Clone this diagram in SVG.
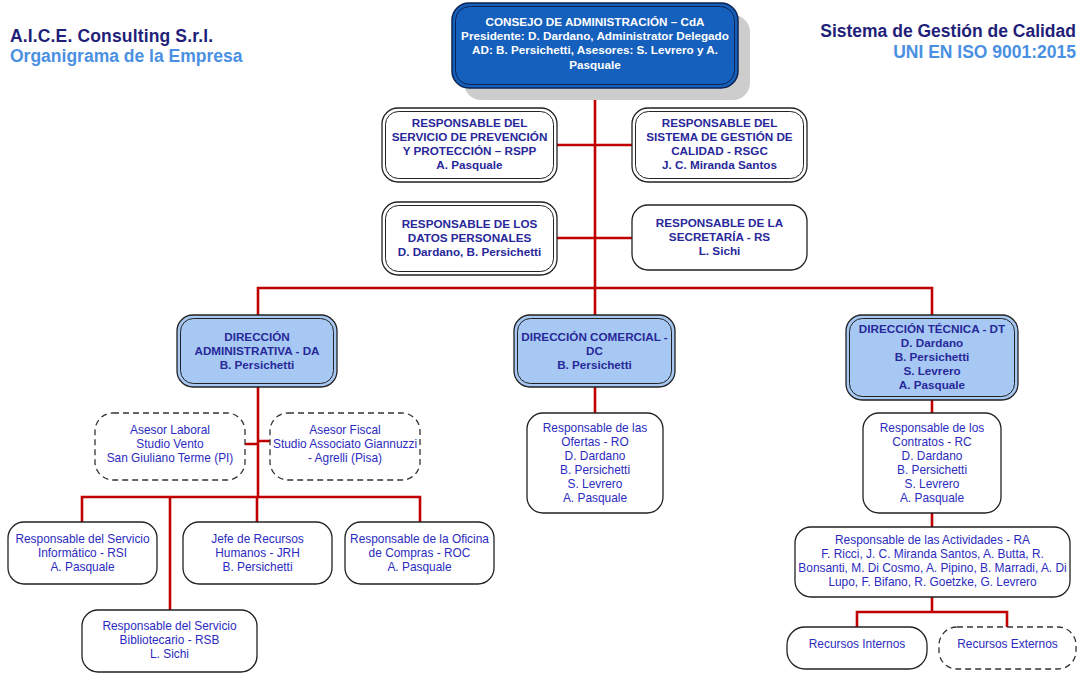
<svg xmlns="http://www.w3.org/2000/svg" width="1086" height="673" viewBox="0 0 1086 673">
<style>
.bg{fill:#ffffff}
.w{fill:#ffffff;stroke:#222;stroke-width:1.3}
.wi{fill:none;stroke:#222;stroke-width:1}
.lb{fill:#A6C8F2;stroke:#222;stroke-width:1.3}
.lbi{fill:none;stroke:#222;stroke-width:1}
.d{fill:#ffffff;stroke:#333;stroke-width:1.3;stroke-dasharray:6,4}
.c{fill:none;stroke:#C00000;stroke-width:2.6}
.b{font-family:"Liberation Sans",Arial,sans-serif;font-size:11.7px;font-weight:bold;fill:#28289A;text-anchor:middle}
.n{font-family:"Liberation Sans",Arial,sans-serif;font-size:11.9px;fill:#2B2BC0;text-anchor:middle}
.t{font-family:"Liberation Sans",Arial,sans-serif;font-size:17.5px;font-weight:bold}
</style>
<rect class="bg" x="0" y="0" width="1086" height="673"/>

<g id="header">
<text class="t" x="10" y="42" fill="#1F1F7A" letter-spacing="0.15">A.I.C.E. Consulting S.r.l.</text>
<text class="t" x="10" y="62" fill="#4A90E2">Organigrama de la Empresa</text>
<text class="t" x="1076" y="37" fill="#1F1F7A" text-anchor="end">Sistema de Gestión de Calidad</text>
<text class="t" x="1076" y="58" fill="#4A90E2" text-anchor="end">UNI EN ISO 9001:2015</text>
</g>

<g id="connectors">
<path class="c" d="M595,88 V315"/>
<path class="c" d="M557,145 H632"/>
<path class="c" d="M557,238 H632"/>
<path class="c" d="M258,315 V288 H932 V315"/>
<path class="c" d="M258,387 V497"/>
<path class="c" d="M245,444 H258 M258,441 H270"/>
<path class="c" d="M82,522 V497 H420 V522"/>
<path class="c" d="M170,497 V610"/>
<path class="c" d="M257,497 V522"/>
<path class="c" d="M595,387 V413"/>
<path class="c" d="M932,400 V413"/>
<path class="c" d="M932,513 V527"/>
<path class="c" d="M932,597 V612"/>
<path class="c" d="M857,627 V612 H1007 V627"/>
</g>

<g id="cda">
<rect x="464" y="15" width="286" height="85" rx="17" fill="#CDCDCD"/>
<rect x="452" y="3" width="286" height="85" rx="17" fill="#1560BD" stroke="#0D2350" stroke-width="1.5"/>
<rect x="455.5" y="6.5" width="279" height="78" rx="14" fill="none" stroke="#0D2350" stroke-width="1"/>
<text class="b" style="fill:#ffffff" x="595" y="26">CONSEJO DE ADMINISTRACIÓN – CdA</text>
<text class="b" style="fill:#ffffff" x="595" y="40">Presidente: D. Dardano, Administrator Delegado</text>
<text class="b" style="fill:#ffffff" x="595" y="54">AD: B. Persichetti, Asesores: S. Levrero y A.</text>
<text class="b" style="fill:#ffffff" x="595" y="69">Pasquale</text>
</g>

<g id="rspp">
<rect class="w" x="382" y="108" width="175" height="74" rx="16"/>
<rect class="wi" x="385.5" y="111.5" width="168" height="67" rx="13"/>
<text class="b" x="469.5" y="127">RESPONSABLE DEL</text>
<text class="b" x="469.5" y="141">SERVICIO DE PREVENCIÓN</text>
<text class="b" x="469.5" y="155">Y PROTECCIÓN – RSPP</text>
<text class="b" x="469.5" y="169">A. Pasquale</text>
</g>

<g id="rsgc">
<rect class="w" x="632" y="108" width="175" height="74" rx="16"/>
<rect class="wi" x="635.5" y="111.5" width="168" height="67" rx="13"/>
<text class="b" x="719.5" y="127">RESPONSABLE DEL</text>
<text class="b" x="719.5" y="141">SISTEMA DE GESTIÓN DE</text>
<text class="b" x="719.5" y="155">CALIDAD - RSGC</text>
<text class="b" x="719.5" y="169">J. C. Miranda Santos</text>
</g>

<g id="datos">
<rect class="w" x="382" y="202" width="175" height="73" rx="16"/>
<rect class="wi" x="385.5" y="205.5" width="168" height="66" rx="13"/>
<text class="b" x="469.5" y="228">RESPONSABLE DE LOS</text>
<text class="b" x="469.5" y="242">DATOS PERSONALES</text>
<text class="b" x="469.5" y="256">D. Dardano, B. Persichetti</text>
</g>

<g id="rs">
<rect class="w" x="632" y="205" width="175" height="65" rx="16"/>
<text class="b" x="719.5" y="227">RESPONSABLE DE LA</text>
<text class="b" x="719.5" y="241">SECRETARÍA - RS</text>
<text class="b" x="719.5" y="255">L. Sichi</text>
</g>

<g id="da">
<rect class="lb" x="177" y="315" width="160" height="72" rx="16"/>
<rect class="lbi" x="180.5" y="318.5" width="153" height="65" rx="13"/>
<text class="b" x="257" y="341">DIRECCIÓN</text>
<text class="b" x="257" y="355">ADMINISTRATIVA - DA</text>
<text class="b" x="257" y="369">B. Persichetti</text>
</g>

<g id="dc">
<rect class="lb" x="514" y="315" width="161" height="72" rx="16"/>
<rect class="lbi" x="517.5" y="318.5" width="154" height="65" rx="13"/>
<text class="b" x="594.5" y="341">DIRECCIÓN COMERCIAL -</text>
<text class="b" x="594.5" y="355">DC</text>
<text class="b" x="594.5" y="369">B. Persichetti</text>
</g>

<g id="dt">
<rect class="lb" x="846" y="315" width="172" height="85" rx="16"/>
<rect class="lbi" x="849.5" y="318.5" width="165" height="78" rx="13"/>
<text class="b" x="932" y="333">DIRECCIÓN TÉCNICA - DT</text>
<text class="b" x="932" y="347">D. Dardano</text>
<text class="b" x="932" y="361">B. Persichetti</text>
<text class="b" x="932" y="375">S. Levrero</text>
<text class="b" x="932" y="389">A. Pasquale</text>
</g>

<g id="asesor-laboral">
<rect class="d" x="95" y="413" width="150" height="67" rx="18"/>
<text class="n" x="170" y="434">Asesor Laboral</text>
<text class="n" x="170" y="448">Studio Vento</text>
<text class="n" x="170" y="462">San Giuliano Terme (PI)</text>
</g>

<g id="asesor-fiscal">
<rect class="d" x="270" y="413" width="150" height="67" rx="18"/>
<text class="n" x="345" y="434">Asesor Fiscal</text>
<text class="n" x="345" y="448">Studio Associato Giannuzzi</text>
<text class="n" x="345" y="462">- Agrelli (Pisa)</text>
</g>

<g id="rsi">
<rect class="w" x="8" y="522" width="149" height="62" rx="16"/>
<text class="n" x="82.5" y="543">Responsable del Servicio</text>
<text class="n" x="82.5" y="557">Informático - RSI</text>
<text class="n" x="82.5" y="571">A. Pasquale</text>
</g>

<g id="jrh">
<rect class="w" x="183" y="522" width="149" height="62" rx="16"/>
<text class="n" x="257.5" y="543">Jefe de Recursos</text>
<text class="n" x="257.5" y="557">Humanos - JRH</text>
<text class="n" x="257.5" y="571">B. Persichetti</text>
</g>

<g id="roc">
<rect class="w" x="345" y="522" width="149" height="62" rx="16"/>
<text class="n" x="419.5" y="543">Responsable de la Oficina</text>
<text class="n" x="419.5" y="557">de Compras - ROC</text>
<text class="n" x="419.5" y="571">A. Pasquale</text>
</g>

<g id="rsb">
<rect class="w" x="82" y="610" width="175" height="62" rx="16"/>
<text class="n" x="169.5" y="630">Responsable del Servicio</text>
<text class="n" x="169.5" y="644">Bibliotecario - RSB</text>
<text class="n" x="169.5" y="658">L. Sichi</text>
</g>

<g id="ro">
<rect class="w" x="527" y="413" width="136" height="100" rx="16"/>
<text class="n" x="595" y="432">Responsable de las</text>
<text class="n" x="595" y="446">Ofertas - RO</text>
<text class="n" x="595" y="460">D. Dardano</text>
<text class="n" x="595" y="474">B. Persichetti</text>
<text class="n" x="595" y="488">S. Levrero</text>
<text class="n" x="595" y="502">A. Pasquale</text>
</g>

<g id="rc">
<rect class="w" x="863" y="413" width="138" height="100" rx="16"/>
<text class="n" x="932" y="432">Responsable de los</text>
<text class="n" x="932" y="446">Contratos - RC</text>
<text class="n" x="932" y="460">D. Dardano</text>
<text class="n" x="932" y="474">B. Persichetti</text>
<text class="n" x="932" y="488">S. Levrero</text>
<text class="n" x="932" y="502">A. Pasquale</text>
</g>

<g id="ra">
<rect class="w" x="795" y="527" width="275" height="70" rx="16"/>
<text class="n" x="932.5" y="544">Responsable de las Actividades - RA</text>
<text class="n" x="932.5" y="558">F. Ricci, J. C. Miranda Santos, A. Butta, R.</text>
<text class="n" x="932.5" y="572">Bonsanti, M. Di Cosmo, A. Pipino, B. Marradi, A. Di</text>
<text class="n" x="932.5" y="586">Lupo, F. Bifano, R. Goetzke, G. Levrero</text>
</g>

<g id="recursos-internos">
<rect class="w" x="787" y="627" width="140" height="42" rx="18"/>
<text class="n" x="857" y="648">Recursos Internos</text>
</g>

<g id="recursos-externos">
<rect class="d" x="939" y="627" width="137" height="42" rx="18"/>
<text class="n" x="1007.5" y="648">Recursos Externos</text>
</g>
</svg>
